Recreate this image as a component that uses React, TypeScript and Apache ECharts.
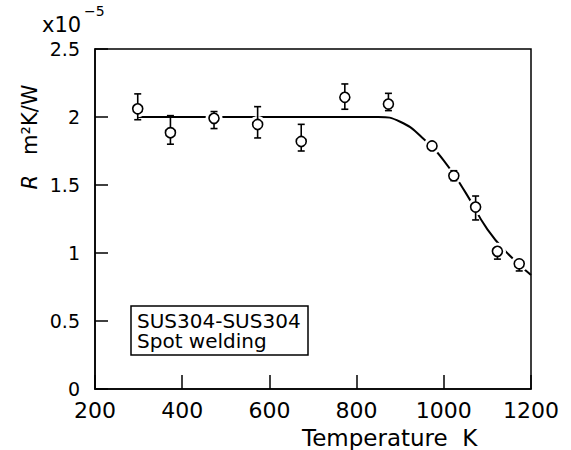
import React, { useEffect, useRef } from "react";
import * as echarts from "echarts";

// Measured points (temperature K, thermal resistance ×1e-5 m²K/W)
const temps = [298, 373, 473, 573, 673, 773, 873, 973, 1023, 1073, 1123, 1173];
const resist = [2.06, 1.885, 1.99, 1.945, 1.82, 2.145, 2.095, 1.787, 1.568, 1.338, 1.012, 0.921];
const errHigh = [2.17, 2.01, 2.04, 2.076, 1.946, 2.243, 2.174, 1.787, 1.605, 1.419, 1.03, 0.94];
const errLow = [1.98, 1.8, 1.915, 1.846, 1.75, 2.057, 2.047, 1.787, 1.532, 1.243, 0.955, 0.868];

// Fitted curve
const curveT = [298, 800, 850, 900, 950, 1000, 1050, 1100, 1150, 1200];
const curveR = [2.0, 2.0, 2.0, 1.965, 1.85, 1.68, 1.444, 1.174, 0.985, 0.838];

// Axis ticks
const xTicks = [200, 400, 600, 800, 1000, 1200];
const yTicks = [0, 0.5, 1, 1.5, 2, 2.5];

const FONT = "DejaVu Sans, sans-serif";

export default function App() {
  const ref = useRef<HTMLDivElement>(null);
  useEffect(() => {
    if (!ref.current) return;
    document.body.style.margin = "0";
    const chart = echarts.init(ref.current, null, { renderer: "svg" });
    const pts = temps.map((t, i) => [t, resist[i]]);
    const errs = temps.map((t, i) => [t, errLow[i], errHigh[i]]);
    const curve = curveT.map((t, i) => [t, curveR[i]]);
    chart.setOption({
      animation: false,
      backgroundColor: "#fff",
      grid: {
        left: 95,
        right: 40,
        top: 49,
        bottom: 61,
        show: true,
        borderColor: "#000",
        borderWidth: 1.5,
        backgroundColor: "transparent",
      },
      title: {
        text: "SUS304-SUS304\nSpot welding",
        left: 131,
        top: 306,
        padding: [5, 8, 4, 6],
        borderColor: "#000",
        borderWidth: 1.5,
        textStyle: {
          fontFamily: FONT,
          fontSize: 20,
          fontWeight: "normal",
          color: "#000",
          lineHeight: 20,
        },
      },
      xAxis: {
        type: "value",
        min: xTicks[0],
        max: xTicks[xTicks.length - 1],
        interval: 200,
        axisLine: { lineStyle: { color: "#000", width: 1.5 } },
        axisTick: { inside: true, length: 14, lineStyle: { color: "#000", width: 1.5 } },
        splitLine: { show: false },
        axisLabel: {
          color: "#000",
          fontFamily: FONT,
          fontSize: 22,
          margin: 10,
          formatter: (v: number) => (xTicks.includes(v) ? String(v) : ""),
        },
      },
      yAxis: {
        type: "value",
        min: yTicks[0],
        max: yTicks[yTicks.length - 1],
        interval: 0.5,
        axisLine: { lineStyle: { color: "#000", width: 1.5 } },
        axisTick: { inside: true, length: 13, lineStyle: { color: "#000", width: 1.5 } },
        splitLine: { show: false },
        axisLabel: {
          color: "#000",
          fontFamily: FONT,
          fontSize: 19,
          margin: 15,
          formatter: (v: number) => (yTicks.includes(v) ? String(v) : ""),
        },
      },
      graphic: [
        {
          type: "text",
          x: 42,
          y: 25,
          style: {
            text: "x10",
            fontFamily: FONT,
            fontSize: 21,
            fill: "#000",
            align: "left",
            verticalAlign: "middle",
          },
        },
        {
          type: "text",
          x: 84,
          y: 11,
          style: {
            text: "−5",
            fontFamily: FONT,
            fontSize: 14,
            fill: "#000",
            align: "left",
            verticalAlign: "middle",
          },
        },
        {
          type: "text",
          x: 30,
          y: 137,
          rotation: Math.PI / 2,
          style: {
            text: "{i|R}   m²K/W",
            fontFamily: FONT,
            fontSize: 21,
            fill: "#000",
            align: "center",
            verticalAlign: "middle",
            rich: {
              i: { fontFamily: FONT, fontSize: 21, fontStyle: "italic", fill: "#000" },
            },
          },
        },
        {
          type: "text",
          x: 302,
          y: 438,
          style: {
            text: "Temperature  K",
            fontFamily: FONT,
            fontSize: 23,
            fill: "#000",
            align: "left",
            verticalAlign: "middle",
          },
        },
      ],
      series: [
        {
          type: "line",
          data: curve,
          smooth: 0.5,
          showSymbol: false,
          symbol: "none",
          lineStyle: { color: "#000", width: 2 },
          z: 2,
        },
        {
          type: "scatter",
          data: pts,
          symbol: "circle",
          symbolSize: 17,
          itemStyle: { color: "#fff", borderWidth: 0, opacity: 1 },
          z: 3,
          silent: true,
        },
        {
          type: "custom",
          data: errs,
          encode: { x: 0, y: [1, 2] },
          z: 4,
          renderItem: (_params: any, api: any) => {
            const x = api.value(0);
            const lo = api.value(1);
            const hi = api.value(2);
            if (hi - lo < 1e-6) return null;
            const pH = api.coord([x, hi]);
            const pL = api.coord([x, lo]);
            const cap = 3.5;
            const st = { stroke: "#000", lineWidth: 1.6 };
            return {
              type: "group",
              children: [
                { type: "line", shape: { x1: pH[0], y1: pH[1], x2: pL[0], y2: pL[1] }, style: st },
                { type: "line", shape: { x1: pH[0] - cap, y1: pH[1], x2: pH[0] + cap, y2: pH[1] }, style: st },
                { type: "line", shape: { x1: pL[0] - cap, y1: pL[1], x2: pL[0] + cap, y2: pL[1] }, style: st },
              ],
            };
          },
        },
        {
          type: "scatter",
          data: pts,
          symbol: "circle",
          symbolSize: 10,
          itemStyle: { color: "#fff", borderColor: "#000", borderWidth: 1.6, opacity: 1 },
          z: 5,
        },
      ],
    });
    return () => chart.dispose();
  }, []);
  return <div ref={ref} style={{ width: 571, height: 450 }} />;
}
